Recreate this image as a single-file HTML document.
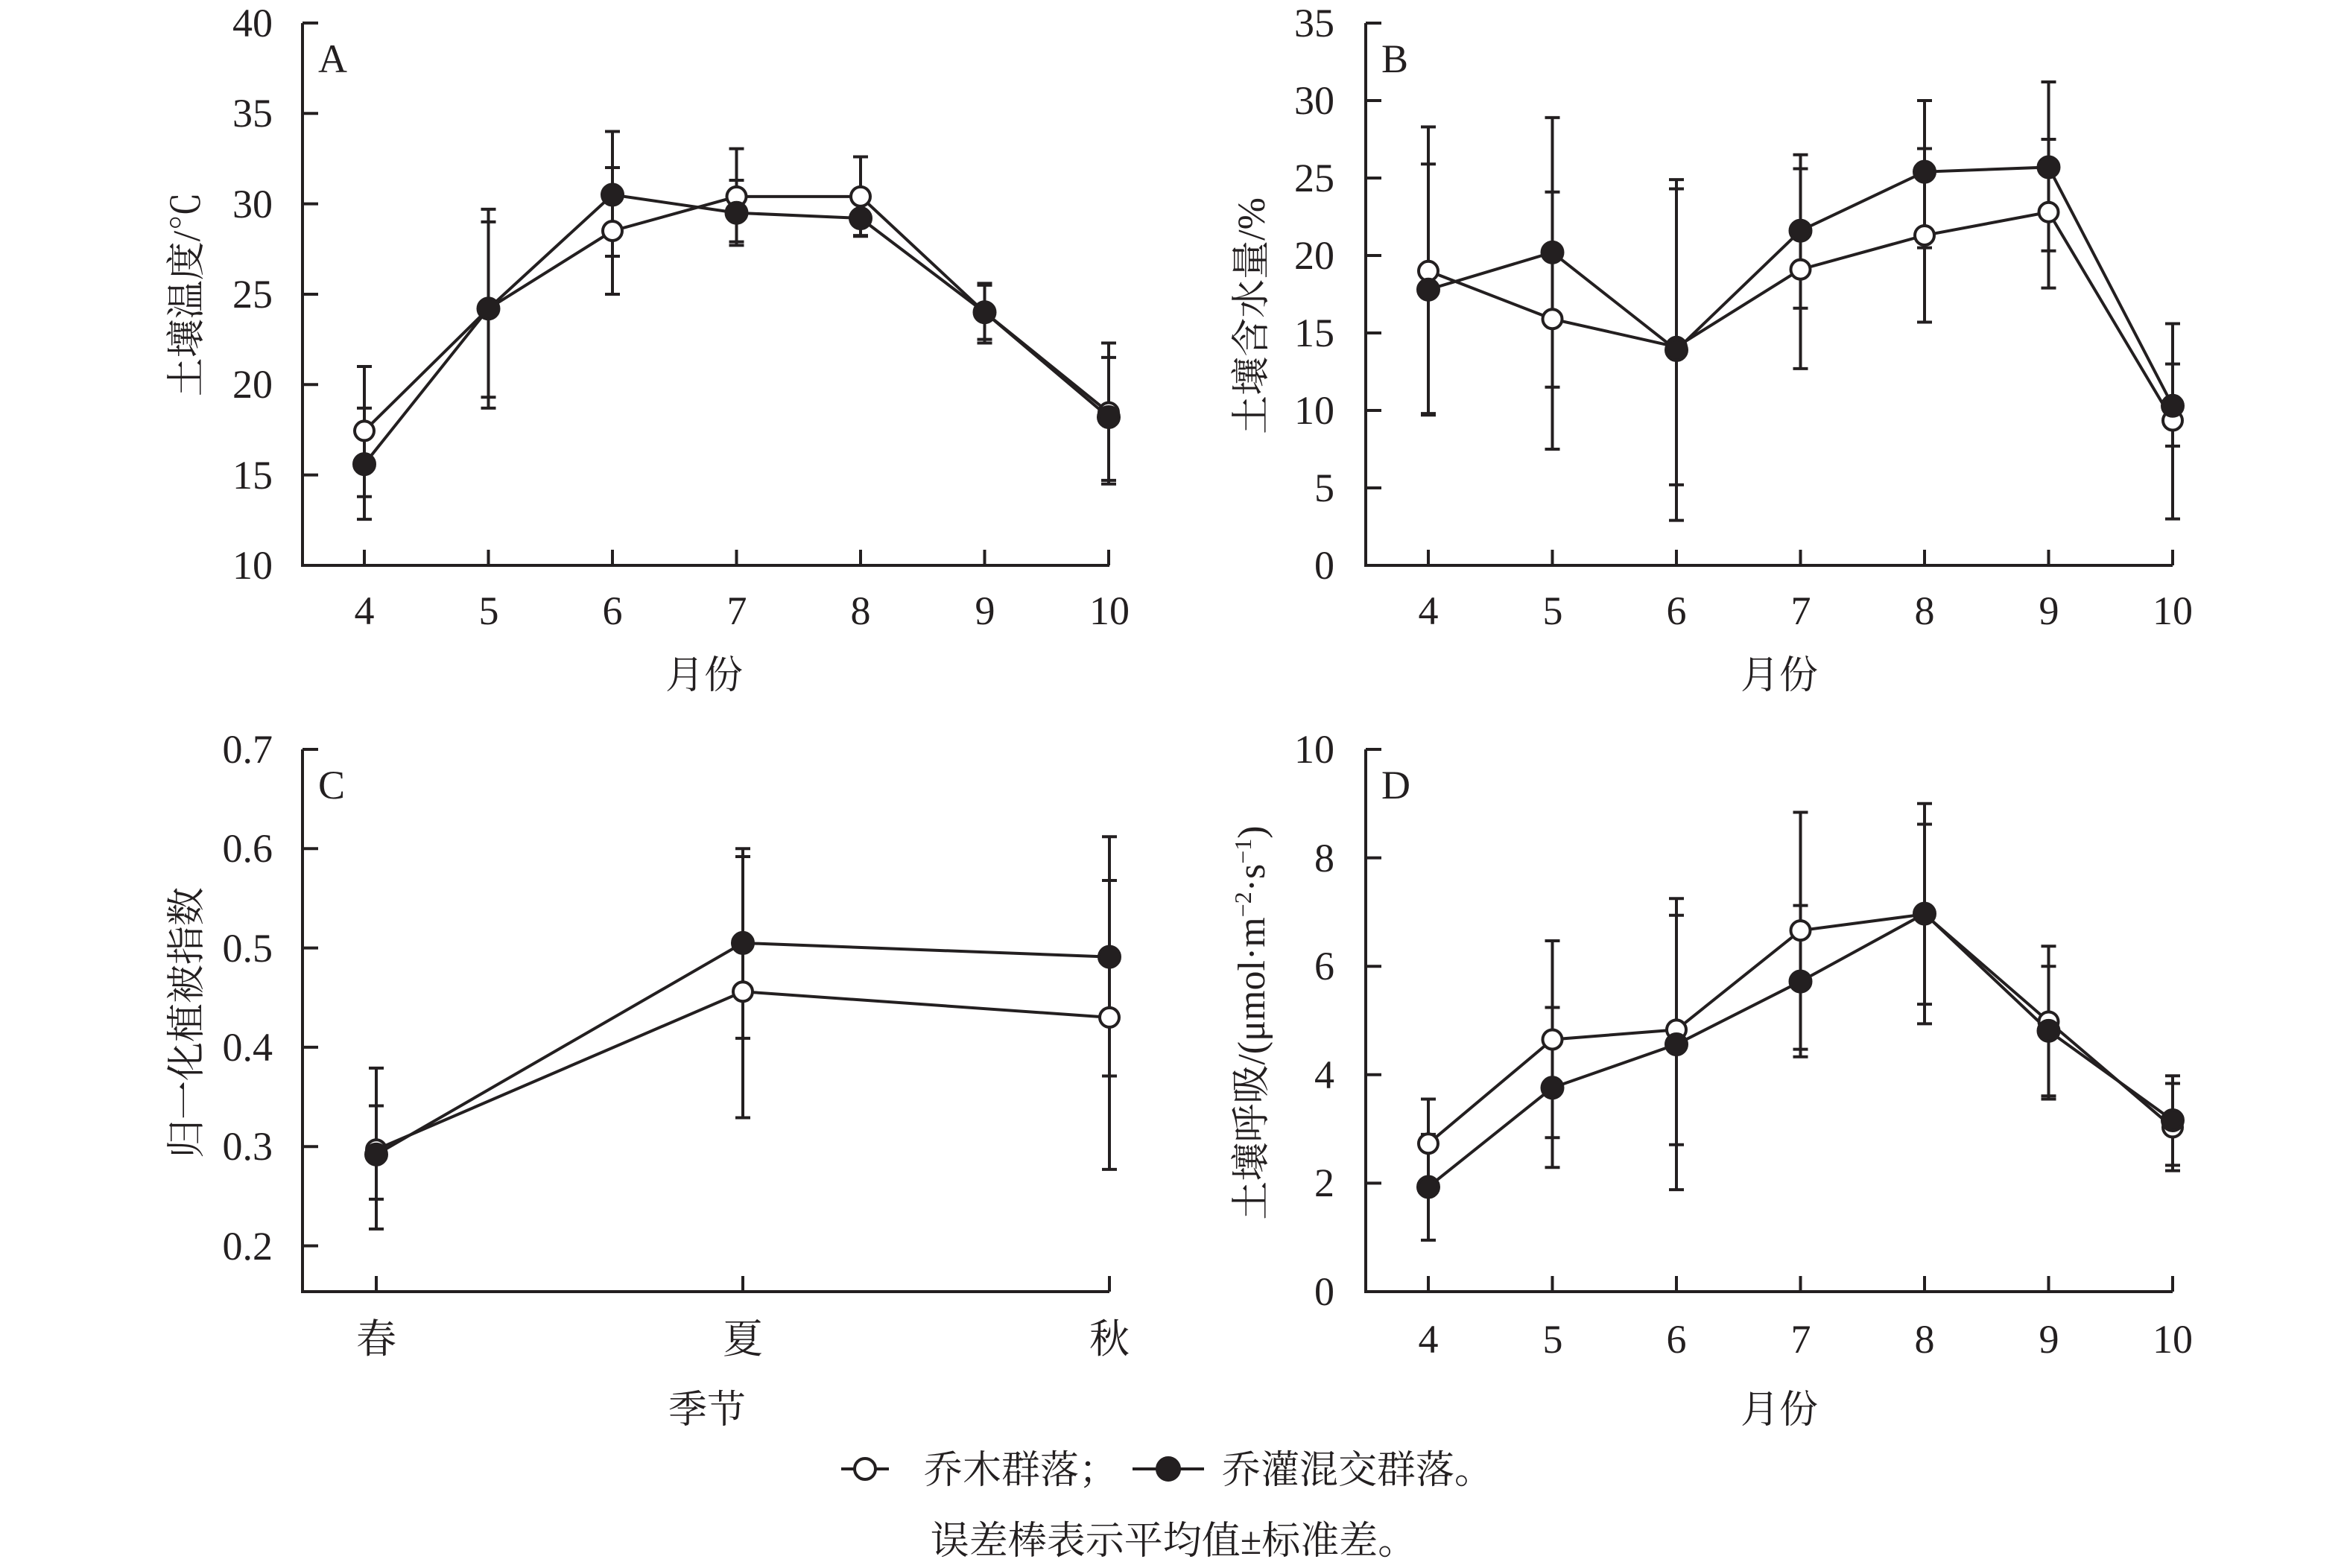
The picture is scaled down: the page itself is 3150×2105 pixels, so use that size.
<!DOCTYPE html>
<html><head><meta charset="utf-8"><style>
html,body{margin:0;padding:0;background:#fff;}
svg{display:block;}
text{font-family:"Liberation Serif","Noto Serif CJK SC",serif;fill:#231f20;}
.cn{font-family:"Liberation Serif","Noto Serif CJK SC","Noto Sans CJK SC",serif;}
</style></head><body>
<svg id="s" width="3150" height="2105" viewBox="0 0 3150 2105" xmlns="http://www.w3.org/2000/svg">
<g stroke="#231f20" stroke-width="4" fill="none" id="axes">
<!-- A -->
<path d="M406 31 V759 H1489"/>
<!-- B -->
<path d="M1833 31 V759 H2916"/>
<!-- C -->
<path d="M406 1006 V1734 H1489"/>
<!-- D -->
<path d="M1833 1006 V1734 H2916"/>
</g>
<g font-size="54" text-anchor="end">
<text x="366" y="49">40</text><text x="366" y="170">35</text><text x="366" y="292">30</text><text x="366" y="413">25</text><text x="366" y="534">20</text><text x="366" y="656">15</text><text x="366" y="777">10</text>
<text x="1791" y="49">35</text><text x="1791" y="153">30</text><text x="1791" y="257">25</text><text x="1791" y="361">20</text><text x="1791" y="465">15</text><text x="1791" y="569">10</text><text x="1791" y="673">5</text><text x="1791" y="777">0</text>
<text x="366" y="1024">0.7</text><text x="366" y="1157">0.6</text><text x="366" y="1291">0.5</text><text x="366" y="1424">0.4</text><text x="366" y="1557">0.3</text><text x="366" y="1691">0.2</text>
<text x="1791" y="1024">10</text><text x="1791" y="1170">8</text><text x="1791" y="1315">6</text><text x="1791" y="1461">4</text><text x="1791" y="1606">2</text><text x="1791" y="1752">0</text>
</g>
<g font-size="54" text-anchor="middle">
<text x="489" y="838">4</text><text x="656" y="838">5</text><text x="822" y="838">6</text><text x="989" y="838">7</text><text x="1155" y="838">8</text><text x="1322" y="838">9</text><text x="1489" y="838">10</text>
<text x="1917" y="838">4</text><text x="2084" y="838">5</text><text x="2250" y="838">6</text><text x="2417" y="838">7</text><text x="2583" y="838">8</text><text x="2750" y="838">9</text><text x="2916" y="838">10</text>
<text x="1917" y="1816">4</text><text x="2084" y="1816">5</text><text x="2250" y="1816">6</text><text x="2417" y="1816">7</text><text x="2583" y="1816">8</text><text x="2750" y="1816">9</text><text x="2916" y="1816">10</text>
<text class="cn" x="505" y="1816">春</text><text class="cn" x="997" y="1816">夏</text><text class="cn" x="1489" y="1816">秋</text>
</g>
<g font-size="54">
<text x="427" y="97">A</text><text x="1854" y="97">B</text><text x="427" y="1072">C</text><text x="1854" y="1072">D</text>
</g>
<g font-size="52" text-anchor="middle" class="cn">
<text class="cn" x="945" y="924">月份</text>
<text class="cn" x="2388" y="924">月份</text>
<text class="cn" x="949" y="1910">季节</text>
<text class="cn" x="2388" y="1910">月份</text>
<text class="cn" transform="translate(268,395) rotate(-90)">土壤温度/℃</text>
<text class="cn" transform="translate(1697,424) rotate(-90)">土壤含水量/%</text>
<text class="cn" transform="translate(268,1373) rotate(-90)">归一化植被指数</text>
<text class="cn" transform="translate(1697,1373) rotate(-90)">土壤呼吸/(μmol·m<tspan font-size="32" dy="-18">−2</tspan><tspan dy="18">·s</tspan><tspan font-size="32" dy="-18">−1</tspan><tspan dy="18">)</tspan></text>
</g>
<g stroke="#231f20" stroke-width="4">
<line x1="1129" y1="1972" x2="1193" y2="1972"/><circle cx="1161" cy="1972" r="14" fill="#fff"/>
<line x1="1520" y1="1972" x2="1616" y2="1972"/><circle cx="1568" cy="1972" r="15" fill="#231f20"/>
</g>
<g font-size="52" class="cn">
<text class="cn" x="1240" y="1991">乔木群落；</text>
<text class="cn" x="1640" y="1991">乔灌混交群落。</text>
<text class="cn" x="1575" y="2086" text-anchor="middle">误差棒表示平均值±标准差。</text>
</g>
<g id="plots" stroke="#231f20" stroke-width="4"></g>
</svg>
<script>
(function(){
var g=document.getElementById('plots'),ns='http://www.w3.org/2000/svg';
function el(t,a){var e=document.createElementNS(ns,t);for(var k in a)e.setAttribute(k,a[k]);g.appendChild(e);return e;}
function panel(P){
  var n=P.xs.length;
  // axis ticks
  for(var i=0;i<n;i++)el('line',{x1:P.xs[i],y1:P.by,x2:P.xs[i],y2:P.by-21});
  P.yt.forEach(function(v){var y=P.Y(v);el('line',{x1:P.ax,y1:y,x2:P.ax+21,y2:y});});
  // error bars
  P.err.forEach(function(e,i){var x=P.xs[i];var top=Math.min.apply(null,e),bot=Math.max.apply(null,e);
    el('line',{x1:x,y1:P.Y(top),x2:x,y2:P.Y(bot)});
    e.forEach(function(v){el('line',{x1:x-10,y1:P.Y(v),x2:x+10,y2:P.Y(v)});});});
  [P.o,P.f].forEach(function(d){var s='';d.forEach(function(v,i){s+=(i?'L':'M')+P.xs[i]+' '+P.Y(v);});el('path',{d:s,fill:'none'});});
  P.o.forEach(function(v,i){el('circle',{cx:P.xs[i],cy:P.Y(v),r:13,fill:'#fff'});});
  P.f.forEach(function(v,i){el('circle',{cx:P.xs[i],cy:P.Y(v),r:14,fill:'#231f20'});});
}
var xa=[],xd=[];for(var i=0;i<7;i++){xa.push(489+i*166.5);xd.push(1917+i*166.5);}
panel({xs:xa,ax:406,by:759,Y:function(v){return 759-(v-10)*24.27;},yt:[15,20,25,30,35,40],
 o:[17.44,24.2,28.5,30.4,30.4,24.0,18.46],f:[15.6,24.2,30.5,29.5,29.2,24.0,18.2],
 err:[[21.0,18.7,13.8,12.55],[29.7,29.0,19.3,18.7],[34.0,32.0,27.1,25.0],[33.05,31.3,27.9,27.7],[32.6,28.25,28.2],[25.6,25.5,22.5,22.3],[22.3,21.5,14.7,14.5]]});
panel({xs:xd,ax:1833,by:759,Y:function(v){return 759-v*20.8;},yt:[5,10,15,20,25,30,35],
 o:[19.0,15.9,14.1,19.1,21.3,22.8,9.35],f:[17.8,20.2,13.9,21.6,25.4,25.7,10.3],
 err:[[28.3,25.9,9.8,9.7],[28.9,24.1,11.5,7.5],[24.9,24.3,5.2,2.9],[26.5,25.6,16.6,12.7],[30.0,26.9,20.5,15.7],[31.2,27.5,20.3,17.9],[15.6,13.0,7.7,3.0]]});
panel({xs:[505,997,1489],ax:406,by:1734,Y:function(v){return 1006+(0.7-v)*1333;},yt:[0.2,0.3,0.4,0.5,0.6,0.7],
 o:[0.297,0.456,0.430],f:[0.292,0.505,0.491],
 err:[[0.379,0.341,0.247,0.217],[0.600,0.592,0.409,0.329],[0.612,0.568,0.371,0.277]]});
panel({xs:xd,ax:1833,by:1734,Y:function(v){return 1734-v*72.8;},yt:[2,4,6,8,10],
 o:[2.73,4.65,4.83,6.66,6.96,4.98,3.03],f:[1.93,3.76,4.56,5.72,6.97,4.81,3.16],
 err:[[3.55,2.9,0.95],[6.47,5.24,2.84,2.29],[7.25,6.94,2.71,1.88],[8.84,7.12,4.47,4.33],[9.0,8.62,5.30,4.94],[6.37,6.0,3.61,3.55],[3.98,3.84,2.33,2.23]]});
})();
</script>
</body></html>
